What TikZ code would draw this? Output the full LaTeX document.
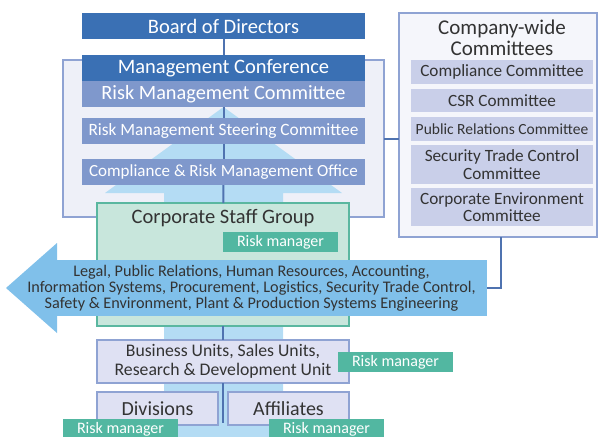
\documentclass[tikz,border=0pt]{standalone}
\usepackage{fontspec}
\setmainfont{Carlito}
\usetikzlibrary{positioning,calc}

\definecolor{darkblue}{RGB}{58,112,180}
\definecolor{midblue}{RGB}{127,152,204}
\definecolor{panelfill}{RGB}{238,240,248}
\definecolor{panelline}{RGB}{143,163,211}
\definecolor{lightarrow}{RGB}{180,220,244}
\definecolor{bigarrow}{RGB}{128,192,234}
\definecolor{staffgreen}{RGB}{200,230,220}
\definecolor{staffline}{RGB}{90,183,160}
\definecolor{taggreen}{RGB}{82,183,161}
\definecolor{commfill}{RGB}{201,207,233}
\definecolor{unitfill}{RGB}{223,225,243}
\definecolor{linkblue}{RGB}{79,115,176}
\definecolor{txt}{RGB}{51,51,51}

\newcommand{\px}[1]{\fontsize{#1pt}{#1pt}\selectfont}

\begin{document}
\begin{tikzpicture}[
  x=1pt, y=-1pt,
  every node/.style={inner sep=0pt, outer sep=0pt},
  darkbox/.style={fill=darkblue, text=white, minimum width=283pt, minimum height=26pt, font=\px{20.5}},
  midbox/.style={fill=midblue, text=white, minimum width=283pt, minimum height=26pt},
  commbox/.style={fill=commfill, text=txt, minimum width=182pt, align=center, font=\px{17.2}},
  unitbox/.style={draw=panelline, line width=1.2pt, fill=unitfill, text=txt, align=center},
  tag/.style={fill=taggreen, text=white, minimum width=115pt, minimum height=20pt, font=\px{16}},
  link/.style={draw=linkblue, line width=2pt}
]
\useasboundingbox (0,0) rectangle (598,437);

% background panel and upward arrow
\node[draw=panelline, line width=1.2pt, fill=panelfill, minimum width=321pt, minimum height=157pt] (panel) at (223.5,138.5) {};
\fill[lightarrow] (164,440) -- (164,193) -- (105,193) -- (223.5,107) -- (342,193) -- (283,193) -- (283,440) -- cycle;

% committees on the right
\node[draw=panelline, line width=1.2pt, fill=panelfill!60!white, minimum width=198pt, minimum height=224pt] (cwc) at (498,125) {};
\node[text=txt, align=center, font=\px{21}] (cwctitle) at (502,37.5) {Company-wide\\Committees};
\node[commbox, minimum height=24pt] (compl) at (502,72) {Compliance Committee};
\node[commbox, minimum height=23pt] (csr) at (502,100.5) {CSR Committee};
\node[commbox, minimum height=24pt, font=\px{15.5}] (pr) at (502,129) {Public Relations Committee};
\node[commbox, minimum height=39pt] (stc) at (502,164.5) {Security Trade Control\\Committee};
\node[commbox, minimum height=38pt] (cec) at (502,207) {Corporate Environment\\Committee};

% vertical chain
\node[darkbox] (board) at (223.5,26) {Board of Directors};
\node[darkbox] (mgmt) at (223.5,68) {Management Conference};
\node[midbox, font=\px{20.3}] (rmc) at (223.5,94) {Risk Management Committee};
\node[midbox, font=\px{17.3}] (steer) at (223.5,131) {Risk Management Steering Committee};
\node[midbox, font=\px{17}] (office) at (223.5,172) {Compliance \& Risk Management Office};

\draw[link] (board) -- (mgmt);
\draw[link] (rmc) -- (steer);
\draw[link] (steer) -- (office);
\draw[link] (panel.east) -- (panel.east -| cwc.west);

% corporate staff group
\node[draw=staffline, line width=1.2pt, fill=staffgreen, minimum width=252pt, minimum height=123pt] (staff) at (223,264.5) {};
\draw[link] (office) -- (staff);
\node[text=txt, font=\px{20.5}] (stafftitle) at (223,218) {Corporate Staff Group};
\node[tag] (tagstaff) at (280.5,242) {Risk manager};

% function arrow
\node[fill=bigarrow, minimum width=430pt, minimum height=56pt] (fns) at (272,288) {};
\fill[bigarrow] (fns.north west) -- ++(0,-17) -- (6,288) -- (57,333) -- (fns.south west) -- cycle;
\node[text=txt, align=center, font=\px{16.2}] (fnstext) at (251.5,288)
  {Legal, Public Relations, Human Resources, Accounting,\\
   Information Systems, Procurement, Logistics, Security Trade Control,\\
   Safety \& Environment, Plant \& Production Systems Engineering};
\draw[link] (fns.east) -| ($(cwc.south)+(3,0)$);

% units
\node[unitbox, minimum width=252pt, minimum height=43pt, font=\px{17.7}] (units) at (223,361.5) {Business Units, Sales Units,\\[1pt]Research \& Development Unit};
\draw[link] (staff) -- (units);
\node[tag] (tagunits) at (395.5,362) {Risk manager};
\coordinate (split) at (223,423);
\draw[link] (units) -- (split);
\node[unitbox, minimum width=121pt, minimum height=33pt, font=\px{20}] (div) at (157.5,408.5) {Divisions};
\node[unitbox, minimum width=121pt, minimum height=33pt, font=\px{20}] (aff) at (288.5,408.5) {Affiliates};
\node[tag] (tagdiv) at (120.5,429) {Risk manager};
\node[tag] (tagaff) at (326.5,429) {Risk manager};
\end{tikzpicture}
\end{document}
